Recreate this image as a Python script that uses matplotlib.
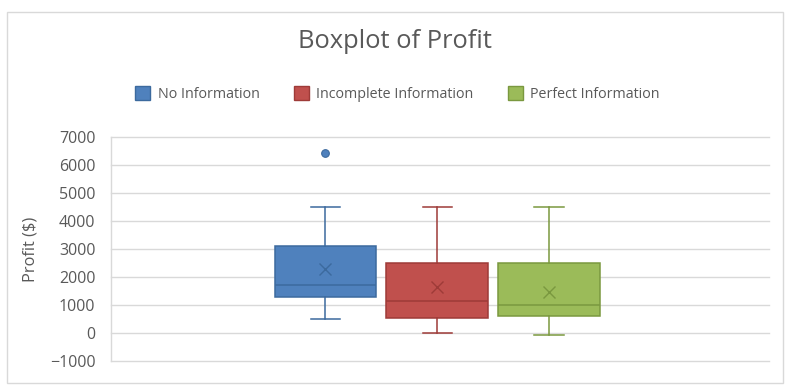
import matplotlib.pyplot as plt
from matplotlib.patches import Patch, Rectangle

plt.rcParams['font.family'] = ['Open Sans', 'DejaVu Sans']

# data
groups = ['No Information', 'Incomplete Information', 'Perfect Information']
whisker_low = [500, 0, -80]
q1 = [1300, 550, 600]
medians = [1700, 1150, 1000]
q3 = [3100, 2500, 2500]
whisker_high = [4500, 4500, 4500]
means = [2300, 1630, 1480]
outliers = [[6420], [], []]

fills = ['#4F81BD', '#C0504D', '#9BBB59']
edges = ['#3C6A9E', '#9E3B38', '#7A983F']
grey = '#595959'

fig = plt.figure(figsize=(7.9, 3.88), dpi=100)
ax = fig.add_axes([110.7 / 790, 1 - 361 / 388, (769.3 - 110.7) / 790, (361 - 137) / 388])

positions = [-1, 0, 1]
for i in range(len(groups)):
    stats = [{'whislo': whisker_low[i], 'q1': q1[i], 'med': medians[i], 'q3': q3[i],
              'whishi': whisker_high[i], 'mean': means[i], 'fliers': outliers[i]}]
    ax.bxp(stats, positions=[positions[i]], widths=0.91, capwidths=0.26,
           showmeans=True, patch_artist=True,
           boxprops=dict(facecolor=fills[i], edgecolor=edges[i], linewidth=1.1),
           medianprops=dict(color=edges[i], linewidth=1.1),
           whiskerprops=dict(color=edges[i], linewidth=1.1),
           capprops=dict(color=edges[i], linewidth=1.1),
           meanprops=dict(marker='x', markeredgecolor=edges[i], markersize=9, markeredgewidth=1.0),
           flierprops=dict(marker='o', markerfacecolor=fills[i], markeredgecolor=edges[i],
                           markersize=5.5, markeredgewidth=0.8))

ax.set_xlim(-2.92, 2.97)
ax.set_ylim(-1000, 7000)
ax.set_yticks(range(-1000, 7001, 1000))
ax.set_xticks([])
ax.grid(axis='y', color='#D9D9D9', linewidth=1.0)
for line in ax.get_ygridlines():
    line.set_clip_on(False)
ax.set_axisbelow(True)
for s in ['top', 'right', 'bottom']:
    ax.spines[s].set_visible(False)
ax.spines['left'].set_color('#D9D9D9')
ax.spines['left'].set_linewidth(1.0)
ax.tick_params(axis='y', length=0, pad=11, labelsize=11.5, labelcolor=grey)
ax.set_ylabel('Profit ($)', fontsize=11.8, color=grey, labelpad=8)

fig.text(0.5, 1 - 42 / 388, 'Boxplot of Profit', ha='center', va='center',
         fontsize=18.4, color=grey)

handles = [Patch(facecolor=fills[i], edgecolor=edges[i], label=groups[i]) for i in range(3)]
fig.legend(handles=handles, loc='center', bbox_to_anchor=(0.503, 1 - 94 / 388), ncol=3,
           frameon=False, fontsize=10.3, labelcolor=grey, handlelength=1.05, handleheight=1.05,
           handletextpad=0.5, columnspacing=2.4)

fig.patches.append(Rectangle((7 / 790, 1 - 383 / 388), 776 / 790, 371 / 388,
                             transform=fig.transFigure, fill=False,
                             edgecolor='#D9D9D9', linewidth=1.0))

fig.savefig('out.png', dpi=100)
